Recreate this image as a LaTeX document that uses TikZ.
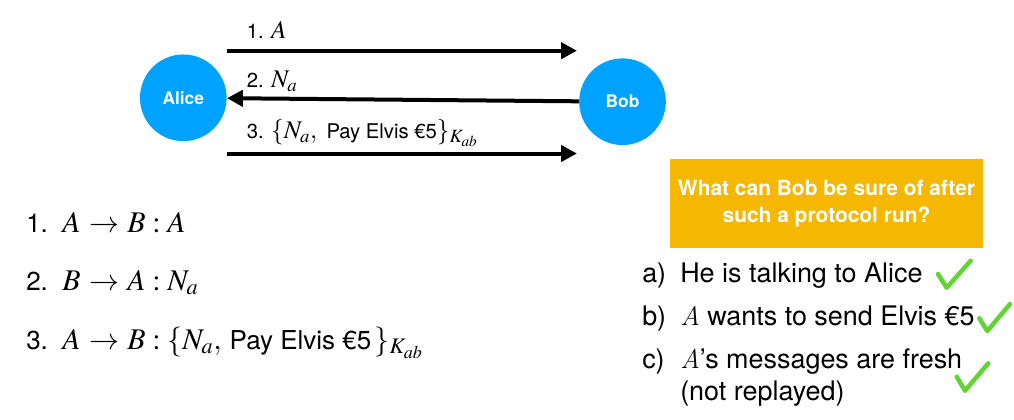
\documentclass[tikz,border=0pt]{standalone}
\usepackage{mathptmx}
\usepackage[no-math]{fontspec}
\setmainfont{TeX Gyre Heros}
\newfontfamily\lmfont{Latin Modern Roman}
\usepackage{tikz}
\usetikzlibrary{positioning,arrows.meta}

\definecolor{personblue}{RGB}{0,162,255}
\definecolor{boxorange}{RGB}{245,183,0}
\definecolor{tickgreen}{RGB}{98,212,52}

% math set larger than the text round it
\newcommand{\labelmath}[1]{{\fontsize{19}{22}\selectfont$#1$}}
\newcommand{\stepmath}[1]{{\fontsize{22.5}{26}\selectfont$#1$}}
\newcommand{\answerA}{{\lmfont\itshape A}}
\newcommand{\sendto}{\mathrel{\mkern1mu\rightarrow\mkern1mu}}
\newcommand{\colonsep}{\mathrel{:}}

\tikzset{
  person/.style={circle,fill=personblue,minimum size=65pt,inner sep=0pt,text=white,font=\fontsize{13}{15}\selectfont\bfseries},
  msg/.style={line width=3pt,-{Triangle[length=12pt,width=12pt]}},
  msglabel/.style={anchor=base west,inner sep=0pt,font=\fontsize{15.2}{18}\selectfont},
  steptext/.style={anchor=base west,inner sep=0pt,font=\fontsize{19.5}{23}\selectfont},
  answer/.style={anchor=base west,inner sep=0pt,font=\fontsize{20.2}{24}\selectfont},
  tick/.style={tickgreen,line width=3.4pt,line cap=round,line join=round},
}

\begin{document}
\begin{tikzpicture}[x=0.75pt,y=0.75pt,yscale=-1,xscale=1]
\useasboundingbox (0,0) rectangle (1014,419);

%Shape: Circle
\node (alice) [person] at (183.3,97.8) {Alice};
\node (bob) [person] at (622.5,101.7) {Bob};

%Straight Lines
\coordinate (m1s) at (alice.east |- 0,50.7);
\coordinate (m1e) at (577,50.7);
\coordinate (m3s) at (alice.east |- 0,153.5);
\coordinate (m3e) at (577,153.5);
\draw [msg] (m1s) -- (m1e);
\draw [msg] (bob) -- (alice);
\draw [msg] (m3s) -- (m3e);

% Text Node
\node (lbl1) [msglabel] at (246.5,38) {1. \labelmath{A}};
\node (lbl2) [msglabel] at (246.5,87.3) {2. \labelmath{N_a}};
\node (lbl3) [msglabel] at (246.5,138.5) {3. \labelmath{\{N_a,}\hspace{7pt}Pay Elvis €5\labelmath{\}_{K_{ab}}}};

% Text Node
\node (st1) [steptext] at (26,232) {1.\ \ \stepmath{A \sendto B \colonsep A}};
\node (st2) [steptext] at (26,290) {2.\ \ \stepmath{B \sendto A \colonsep N_a}};
\node (st3) [steptext] at (26,349) {3.\ \ \stepmath{A \sendto B \colonsep \{N_a,}\hspace{6pt}Pay Elvis €5\stepmath{\,\}_{K_{ab}}}};

%Shape: Rectangle
\node (question) [fill=boxorange,minimum width=234.75pt,minimum height=66.75pt,inner sep=0pt,
  text=white,align=center,font=\fontsize{15.7}{20.25}\selectfont\bfseries] at (826.5,203.5)
  {What can Bob be sure of after\\such a protocol run?};

% Text Node
\node (ka) [answer] at (642,282) {a)};
\node (ansa) [answer] at (680,282) {He is talking to Alice};
\node (kb) [answer] at (642,325) {b)};
\node (ansb) [answer] at (680,325) {\answerA\ wants to send Elvis €5};
\node (kc) [answer] at (642,368) {c)};
\node (ansc) [answer] at (680,368) {\answerA’s messages are fresh};
\node (ansc2) [answer] at (680,400) {(not replayed)};

%Free Drawing
\draw [tick] (938,274) -- (946.7,287.7) -- (970.7,260.7);
\draw [tick] (979.3,318.3) -- (987.3,331) -- (1010,304);
\draw [tick] (956.7,376.7) -- (965,390.7) -- (988.3,363.3);

\end{tikzpicture}
\end{document}
